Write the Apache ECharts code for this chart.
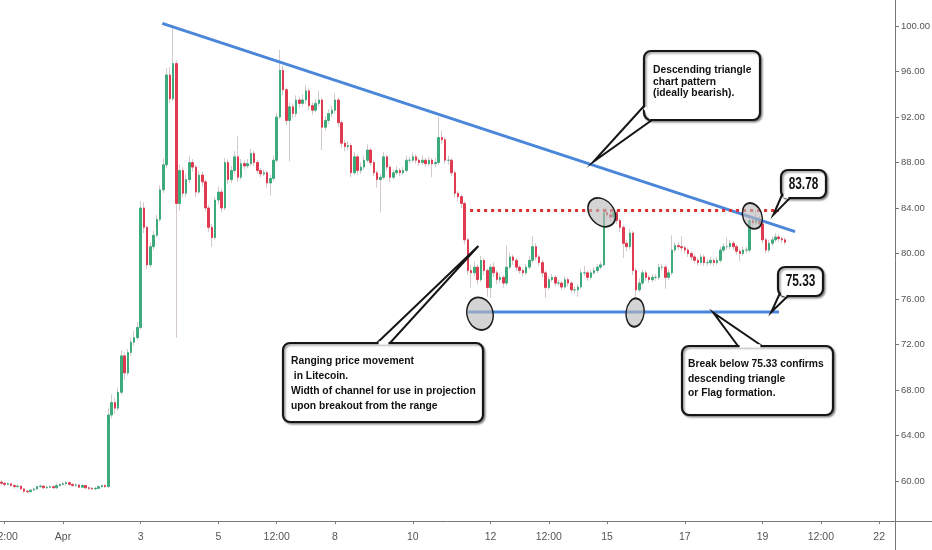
<!DOCTYPE html>
<html>
<head>
<meta charset="utf-8">
<script src="https://cdn.jsdelivr.net/npm/echarts@6.0.0/dist/echarts.min.js"></script>
<style>
  html, body { margin: 0; padding: 0; background: #fff; }
  #main { width: 932px; height: 550px; }
</style>
</head>
<body>
<div id="main"></div>
<script>
// LTC 2h candles, hours counted from Apr 1 00:00
const startHour = -38;
const stepHours = 2;
// [open, close, low, high]
const candles = [
  [59.9,59.8,59.6,60.1],[59.8,59.7,59.5,59.9],[59.7,59.75,59.6,59.9],[59.75,59.6,59.5,59.8],
  [59.6,59.5,59.3,59.7],[59.5,59.55,59.4,59.7],[59.55,59.3,59.2,59.6],[59.3,59.1,58.9,59.35],
  [59.1,59.05,58.9,59.2],[59.05,59.2,59.0,59.3],[59.2,59.3,59.1,59.4],[59.3,59.5,59.2,59.6],
  [59.5,59.55,59.4,59.7],[59.55,59.4,59.3,59.6],[59.4,59.45,59.3,59.6],[59.45,59.5,59.35,59.6],
  [59.5,59.4,59.3,59.6],[59.4,59.6,59.3,59.8],[59.6,59.7,59.5,59.8],[59.7,59.75,59.6,59.9],
  [59.75,59.85,59.6,60.0],[59.85,59.7,59.6,59.9],[59.7,59.6,59.5,59.8],[59.6,59.65,59.5,59.8],
  [59.65,59.45,59.35,59.7],[59.45,59.6,59.4,59.75],[59.6,59.4,59.3,59.65],[59.4,59.35,59.2,59.5],
  [59.35,59.3,59.2,59.45],[59.3,59.35,59.2,59.5],[59.35,59.5,59.3,59.6],[59.5,59.6,59.4,59.7],
  [59.6,59.5,59.4,59.7],[59.5,65.8,59.4,66.4],[65.8,66.9,65.5,67.6],[66.9,66.4,65.9,67.3],
  [66.4,67.8,66.2,68.2],[67.8,71.0,67.6,71.5],[71.0,69.5,68.9,71.3],[69.5,71.3,69.3,71.6],
  [71.3,72.2,71.0,72.6],[72.2,72.6,71.9,73.2],[72.6,73.5,72.4,74.0],[73.5,84.0,73.3,84.6],
  [84.0,82.3,81.8,84.5],[82.3,79.0,78.6,82.5],[79.0,80.6,78.8,81.0],[80.6,81.6,80.3,82.0],
  [81.6,83.0,81.4,83.4],[83.0,85.6,82.8,86.0],[85.6,87.8,85.3,88.4],[87.8,95.7,87.5,96.3],
  [95.7,93.6,93.2,96.4],[93.6,96.7,93.4,100.1],[96.7,84.4,72.6,97.0],[84.4,87.3,83.8,87.8],
  [87.3,85.3,84.9,87.6],[85.3,86.5,85.0,87.0],[86.5,88.0,86.2,88.6],[88.0,87.6,87.2,88.3],
  [87.6,85.4,85.0,87.8],[85.4,86.9,85.2,87.3],[86.9,86.3,85.9,87.2],[86.3,84.0,83.7,86.5],
  [84.0,82.3,81.9,84.3],[82.3,81.4,80.6,82.6],[81.4,84.7,81.2,85.0],[84.7,85.4,84.3,85.9],
  [85.4,84.0,83.6,85.7],[84.0,88.0,83.8,88.4],[88.0,86.5,86.1,88.3],[86.5,87.3,86.2,87.7],
  [87.3,88.5,87.0,89.0],[88.5,86.7,86.3,90.3],[86.7,87.9,86.5,88.3],[87.9,87.7,87.4,88.2],
  [87.7,87.9,87.5,88.3],[87.9,88.8,87.7,89.2],[88.8,88.0,87.7,89.0],[88.0,87.3,87.0,88.2],
  [87.3,87.0,86.7,87.5],[87.0,87.1,86.8,87.4],[87.1,86.2,85.8,87.3],[86.2,86.6,85.1,86.9],
  [86.6,88.2,86.4,88.6],[88.2,92.0,88.0,92.4],[92.0,96.1,91.8,97.9],[96.1,94.4,93.9,96.5],
  [94.4,91.7,91.3,94.6],[91.7,92.9,88.1,93.3],[92.9,92.3,91.9,93.2],[92.3,93.5,92.0,93.9],
  [93.5,93.2,92.8,93.8],[93.2,93.5,92.9,94.0],[93.5,94.3,93.2,94.8],[94.3,93.0,92.6,94.5],
  [93.0,92.6,92.2,93.3],[92.6,93.2,92.4,93.6],[93.2,93.5,92.9,94.3],[93.5,91.1,89.1,93.7],
  [91.1,91.7,90.8,92.1],[91.7,92.3,91.4,92.7],[92.3,92.6,92.0,93.0],[92.6,93.5,92.3,94.1],
  [93.5,91.5,91.1,93.7],[91.5,89.7,89.3,91.7],[89.7,89.4,89.0,90.0],[89.4,89.5,89.1,89.9],
  [89.5,87.1,86.7,89.7],[87.1,88.5,86.9,88.9],[88.5,87.3,86.9,88.7],[87.3,87.6,87.0,88.0],
  [87.6,88.2,87.4,88.6],[88.2,89.1,88.0,89.6],[89.1,88.0,87.7,89.3],[88.0,87.1,86.8,88.2],
  [87.1,86.5,85.8,87.3],[86.5,86.7,83.6,87.0],[86.7,88.5,86.5,88.9],[88.5,87.6,87.3,88.7],
  [87.6,86.7,86.3,87.8],[86.7,87.1,86.5,87.4],[87.1,87.3,86.9,87.7],[87.3,87.1,86.8,87.5],
  [87.1,87.3,86.9,87.6],[87.3,88.2,87.1,88.6],[88.2,88.2,87.9,88.5],[88.2,88.5,88.0,88.9],
  [88.5,88.2,87.9,88.7],[88.2,88.0,87.7,88.4],[88.0,88.2,87.8,88.6],[88.2,87.9,87.6,88.4],
  [87.9,88.2,87.7,88.5],[88.2,87.9,86.7,88.4],[87.9,88.0,87.6,88.4],[88.0,90.2,87.8,92.0],
  [90.2,90.0,89.6,90.8],[90.0,88.2,87.9,90.2],[88.2,88.2,87.8,88.6],[88.2,87.1,86.8,88.4],
  [87.1,85.3,84.9,87.3],[85.3,85.0,84.6,85.5],[85.0,84.4,84.0,85.2],[84.4,81.2,80.8,84.6],
  [81.2,78.5,78.1,81.4],[78.5,78.3,77.0,79.0],[78.3,78.8,78.0,79.3],[78.8,77.7,77.3,79.0],
  [77.7,79.4,77.5,79.8],[79.4,78.5,78.1,79.6],[78.5,77.0,76.2,78.7],[77.0,78.8,76.1,79.1],
  [78.8,78.3,77.9,79.2],[78.3,77.7,77.3,78.5],[77.7,77.9,77.4,78.2],[77.9,77.4,77.0,78.1],
  [77.4,78.8,77.2,80.7],[78.8,79.7,78.6,80.1],[79.7,79.4,79.0,79.9],[79.4,78.8,78.5,79.6],
  [78.8,78.5,78.2,79.0],[78.5,78.3,78.0,78.7],[78.3,78.8,78.1,79.1],[78.8,79.4,78.6,79.8],
  [79.4,80.6,79.2,81.5],[80.6,79.7,79.4,80.9],[79.7,79.2,78.9,79.9],[79.2,78.3,77.9,79.4],
  [78.3,77.0,76.1,78.5],[77.0,77.7,76.8,78.0],[77.7,77.9,77.5,78.2],[77.9,77.4,77.1,78.1],
  [77.4,77.4,77.1,77.7],[77.4,77.05,76.8,77.6],[77.05,77.7,76.9,78.0],[77.7,77.4,77.1,77.9],
  [77.4,76.8,76.5,77.6],[76.8,76.8,76.5,77.1],[76.8,77.05,76.2,77.3],[77.05,78.3,76.9,78.6],
  [78.3,78.3,78.0,78.9],[78.3,77.9,77.6,78.5],[77.9,78.3,77.7,78.6],[78.3,78.5,78.1,78.8],
  [78.5,78.8,78.3,79.1],[78.8,79.0,78.6,79.3],[79.0,83.6,78.9,84.0],[83.6,83.4,83.0,84.0],
  [83.4,83.2,82.8,83.9],[83.2,83.6,82.9,84.0],[83.6,82.9,82.6,83.8],[82.9,82.3,81.9,83.1],
  [82.3,80.9,79.6,82.5],[80.9,80.6,80.2,81.2],[80.6,81.8,80.4,82.2],[81.8,78.5,78.1,82.0],
  [78.5,76.8,76.2,78.7],[76.8,77.4,76.6,77.8],[77.4,78.3,77.2,78.6],[78.3,77.9,77.6,78.5],
  [77.9,77.7,77.4,78.1],[77.7,77.9,77.5,78.2],[77.9,77.9,77.6,78.2],[77.9,78.8,77.7,79.1],
  [78.8,78.8,78.5,79.1],[78.8,77.9,76.9,79.0],[77.9,78.3,77.7,78.6],[78.3,80.3,78.1,81.6],
  [80.3,80.7,80.1,81.0],[80.7,80.6,80.3,81.0],[80.6,80.5,80.2,81.5],[80.5,80.3,80.0,80.7],
  [80.3,80.0,79.7,80.5],[80.0,79.7,79.4,80.2],[79.7,79.4,79.1,79.9],[79.4,79.2,78.9,79.6],
  [79.2,79.7,79.0,80.0],[79.7,79.2,78.9,79.9],[79.2,79.2,78.9,79.5],[79.2,79.4,79.0,79.7],
  [79.4,79.2,78.9,79.6],[79.2,79.4,79.0,79.7],[79.4,80.3,79.2,80.6],[80.3,80.6,80.1,80.9],
  [80.6,80.6,80.3,81.4],[80.6,80.9,80.4,81.2],[80.9,80.6,80.3,81.1],[80.6,80.2,79.9,80.8],
  [80.2,80.0,79.3,80.4],[80.0,80.3,79.8,80.6],[80.3,80.3,80.0,80.6],[80.3,82.9,80.1,83.2],
  [82.9,82.7,82.4,83.2],[82.7,82.9,82.5,83.8],[82.9,82.6,82.3,83.3],[82.6,81.2,80.9,82.8],
  [81.2,80.3,80.0,81.4],[80.3,80.9,80.1,81.2],[80.9,81.2,80.7,81.5],[81.2,81.45,81.0,81.8],
  [81.45,81.3,81.0,81.7],[81.3,81.2,80.9,81.5],[81.2,81.0,80.8,81.4]
];

const yTicks = [60, 64, 68, 72, 76, 80, 84, 88, 92, 96, 100];
const xTickHours = [-36, 0, 48, 96, 132, 168, 216, 264, 300, 336, 384, 432, 468, 504];
const xTickLabels = ['12:00', 'Apr', '3', '5', '12:00', '8', '10', '12', '12:00', '15', '17', '19', '12:00', '22'];

// drawn annotations, in [hour, price]
const trendLine = [[61.3, 100.24], [452.1, 81.92]];
const supportLine = [[250.1, 74.85], [442.2, 74.85]];
const resistLine = [[251.4, 83.78], [442.2, 83.78]];
const circled = [[257.5, 74.71], [332.7, 83.62], [353.3, 74.81], [425.7, 83.3]];

const upColor = '#3daa7c';
const downColor = '#e03a50';
const wickColor = '#d3c9cb';
const blue = '#4a86d9';
const FONT = '"Liberation Sans", Arial, sans-serif';

const chart = echarts.init(document.getElementById('main'));

const wickData = candles.map((c, i) => [startHour + stepHours * i, c[0], c[1], c[2], c[3]]);
const bodyData = candles.map((c, i) => [startHour + stepHours * i, c[0], c[1], Math.min(c[0], c[1]), Math.max(c[0], c[1])]);

chart.setOption({
  animation: false,
  backgroundColor: '#fff',
  grid: { left: 0, right: 37, top: 0, bottom: 29, outerBoundsMode: 'none', containLabel: false },
  xAxis: {
    type: 'value',
    min: -38.9,
    max: 513.8,
    axisLine: { show: true, onZero: false, lineStyle: { color: '#777' } },
    axisTick: { show: true, length: 3, customValues: xTickHours, lineStyle: { color: '#777' } },
    axisLabel: {
      customValues: xTickHours,
      margin: 11,
      color: '#555',
      fontSize: 10.5,
      fontFamily: FONT,
      formatter: v => xTickLabels[xTickHours.indexOf(v)]
    },
    splitLine: { show: false }
  },
  yAxis: {
    type: 'value',
    position: 'right',
    min: 56.48,
    max: 102.29,
    axisLine: { show: true, onZero: false, lineStyle: { color: '#777' } },
    axisTick: { show: true, length: 4, customValues: yTicks, lineStyle: { color: '#777' } },
    axisLabel: {
      customValues: yTicks,
      margin: 6,
      color: '#555',
      fontSize: 9.5,
      fontFamily: FONT,
      formatter: v => v.toFixed(2)
    },
    splitLine: { show: false }
  },
  series: [
    {
      name: 'wicks',
      type: 'candlestick',
      data: wickData,
      encode: { x: 0, y: [1, 2, 3, 4] },
      barWidth: 1,
      silent: true,
      z: 1,
      itemStyle: { color: wickColor, color0: wickColor, borderColor: wickColor, borderColor0: wickColor, borderWidth: 1 }
    },
    {
      name: 'LTC',
      type: 'candlestick',
      data: bodyData,
      encode: { x: 0, y: [1, 2, 3, 4] },
      barWidth: 2,
      z: 2,
      itemStyle: { color: upColor, color0: downColor, borderColor: upColor, borderColor0: downColor, borderWidth: 1 }
    },
    {
      type: 'line', data: trendLine, symbol: 'none', z: 5, silent: true,
      lineStyle: { color: blue, width: 3 }
    },
    {
      type: 'line', data: supportLine, symbol: 'none', z: 5, silent: true,
      lineStyle: { color: blue, width: 3 }
    },
    {
      type: 'line', data: resistLine, symbol: 'none', z: 5, silent: true,
      lineStyle: { color: '#e02e2e', width: 3, type: [3, 4] }
    }
  ]
});

const px = p => chart.convertToPixel({ xAxisIndex: 0, yAxisIndex: 0 }, p);

// ellipse radii / tilt (pixels, radians)
const ellipseShape = [[13, 16.5, 0.25], [12, 16, 0.7], [9, 14.2, -0.1], [9.5, 13.3, 0.35]];

const callouts = [
  { text: 'Descending triangle\nchart pattern\n(ideally bearish).', box: [644, 51, 116, 69], tip: [327.5, 88.07],
    base: [[644, 106], [652, 120]], tx: 653, ty: 64, lh: 11.8 },
  { text: 'Ranging price movement\n in Litecoin.\nWidth of channel for use in projection\nupon breakout from the range',
    box: [283, 343, 200, 79], tip: [256.5, 80.66], base: [[377, 343], [390, 343]], tx: 291, ty: 354, lh: 14.8 },
  { text: 'Break below 75.33 confirms\ndescending triangle\nor Flag formation.', box: [682, 346, 151, 69],
    tip: [401.6, 74.8], base: [[738, 346], [762, 346]], tx: 688, ty: 357, lh: 14.5 },
  { text: '83.78', box: [781, 170, 45, 28], tip: [438.7, 83.4], base: [[782, 195], [790, 198]], big: true },
  { text: '75.33', box: [778, 267, 45, 29], tip: [437.4, 74.85], base: [[780, 293], [788, 296]], big: true }
];

const graphic = [];
circled.forEach((c, i) => {
  const p = px(c);
  const s = ellipseShape[i];
  graphic.push({
    type: 'circle', z: 100, x: p[0], y: p[1], scaleX: s[0] / s[1], rotation: s[2],
    shape: { cx: 0, cy: 0, r: s[1] },
    style: { fill: 'rgba(185,185,185,0.62)', stroke: '#1c1c1c', lineWidth: 1.6, strokeNoScale: true }
  });
});

callouts.forEach((c, k) => {
  const t = px(c.tip);
  const z = 110 + k * 5;
  const b = c.box;
  graphic.push({
    type: 'polygon', z: z,
    shape: { points: [c.base[0], t, c.base[1]] },
    style: { fill: '#fff', stroke: '#161616', lineWidth: 2, lineJoin: 'miter' }
  });
  graphic.push({
    type: 'rect', z: z + 1,
    shape: { x: b[0], y: b[1], width: b[2], height: b[3], r: 7 },
    style: { fill: '#fff', stroke: '#161616', lineWidth: 2.2, shadowBlur: 2, shadowOffsetX: 1.5, shadowOffsetY: 1.5, shadowColor: 'rgba(0,0,0,0.4)' }
  });
  const dx = c.base[1][0] - c.base[0][0], dy = c.base[1][1] - c.base[0][1];
  const len = Math.hypot(dx, dy), ux = dx / len, uy = dy / len;
  graphic.push({
    type: 'line', z: z + 2,
    shape: { x1: c.base[0][0] + ux * 1.6, y1: c.base[0][1] + uy * 1.6, x2: c.base[1][0] - ux * 1.6, y2: c.base[1][1] - uy * 1.6 },
    style: { stroke: '#fff', lineWidth: 3.4 }
  });
  if (c.big) {
    const cx = b[0] + b[2] / 2, cy = b[1] + b[3] / 2 + 0.5;
    graphic.push({
      type: 'text', z: z + 3, x: cx, y: cy, scaleX: 0.74, originX: 0, originY: 0,
      style: { text: c.text, fill: '#111', font: 'bold 16px ' + FONT, align: 'center', verticalAlign: 'middle', textAlign: 'center', textVerticalAlign: 'middle' }
    });
  } else {
    graphic.push({
      type: 'text', z: z + 3, x: c.tx, y: c.ty,
      style: { text: c.text, fill: '#111', font: 'bold 10.3px ' + FONT, lineHeight: c.lh, align: 'left', verticalAlign: 'top', textAlign: 'left', textVerticalAlign: 'top' }
    });
  }
});

// axis lines running past the corner
graphic.push({ type: 'line', z: 90, shape: { x1: 895, y1: 521.5, x2: 932, y2: 521.5 }, style: { stroke: '#777', lineWidth: 1 } });
graphic.push({ type: 'line', z: 90, shape: { x1: 895.5, y1: 521, x2: 895.5, y2: 550 }, style: { stroke: '#777', lineWidth: 1 } });

chart.setOption({ graphic: graphic });
</script>
</body>
</html>
